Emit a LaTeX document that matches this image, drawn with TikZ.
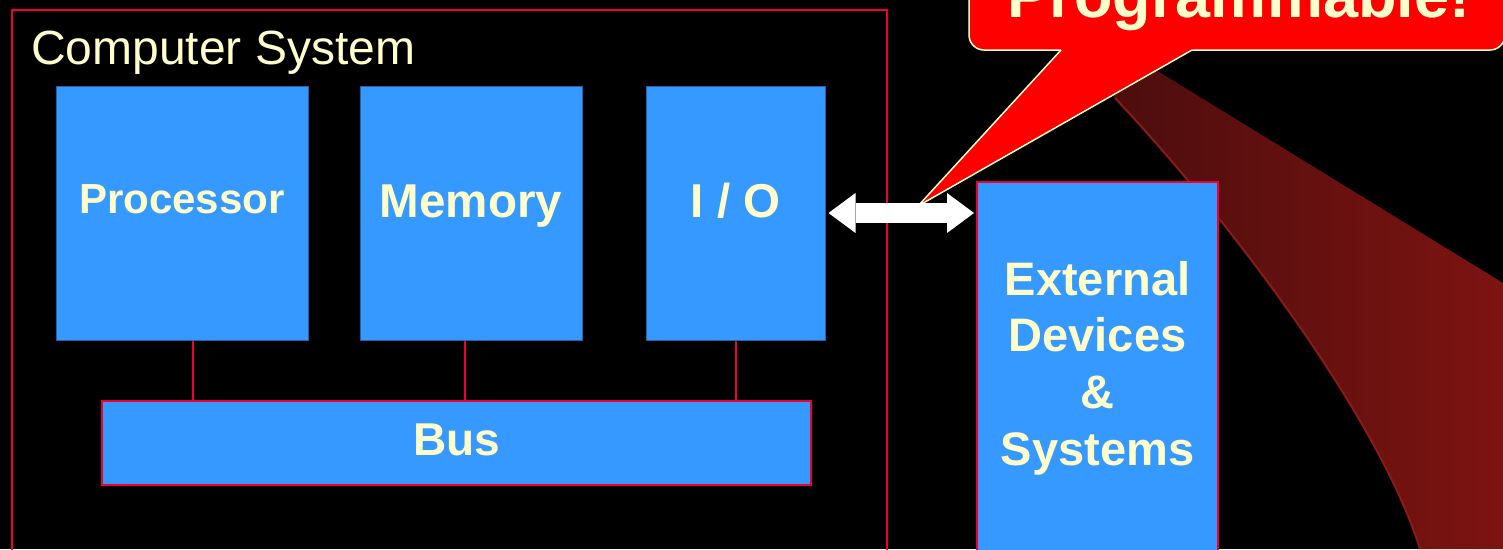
\documentclass[tikz,border=0pt]{standalone}
\usepackage{fontspec}
\setmainfont{Liberation Sans}
\usetikzlibrary{arrows.meta}

\definecolor{boxblue}{RGB}{54,153,255}
\definecolor{boxedge}{RGB}{36,96,170}
\definecolor{cream}{RGB}{255,255,204}
\definecolor{wirered}{RGB}{240,0,50}
\definecolor{calloutred}{RGB}{255,0,0}
\definecolor{beamdark}{RGB}{74,13,13}
\definecolor{beamlight}{RGB}{125,20,17}
\definecolor{beamrim}{RGB}{140,26,22}

\newcommand\pxfont[1]{\fontsize{#1}{#1}\selectfont}

\begin{document}
\begin{tikzpicture}[x=1pt,y=-1pt,
  unitbox/.style={rectangle, fill=boxblue, draw=boxedge, line width=1pt,
    inner sep=0pt, minimum height=254pt, text=cream},
  busbox/.style={rectangle, fill=boxblue, draw=wirered, line width=2.2pt,
    inner sep=0pt, text=cream},
  wire/.style={draw=wirered, line width=2pt},
  frameline/.style={draw=wirered, line width=2.2pt},
  boldtext/.style={font=\bfseries\pxfont{#1}},
  iolink/.style={draw=white, line width=20pt,
    {Triangle[length=27pt,width=40pt,line width=0pt]}-{Triangle[length=27pt,width=40pt,line width=0pt]}},
]
% canvas
\fill[black] (0,0) rectangle (1503,549);
\useasboundingbox (0,0) rectangle (1503,549);
\clip (0,0) rectangle (1503,549);

% light beam falling from the callout
\shade[left color=beamdark, right color=beamlight]
  (1095,76) -- (1120,48) -- (1503,283) -- (1503,549) -- (1420,549)
  .. controls (1380,420) and (1230,220) .. (1115,98) -- cycle;
\draw[beamrim, line width=2pt] (1420,549) .. controls (1380,420) and (1230,220) .. (1115,98);

% computer system frame
\draw[frameline] (12,10) rectangle (887,620);
\node[anchor=base west, inner sep=0pt, text=cream, font=\pxfont{48}] (sys) at (31,64) {Computer System};

% units
\node[unitbox, minimum width=252pt, boldtext=42, text height=15pt, text depth=14.4pt] (proc) at (182,213) {Processor};
\node[unitbox, minimum width=222pt, boldtext=47.5, text height=20pt, text depth=11.4pt] (mem) at (471,213) {Memory};
\node[unitbox, minimum width=179pt, boldtext=47.5, text height=20pt, text depth=12pt] (io) at (735.5,213) {I / O};
\node[busbox, minimum width=709pt, minimum height=84pt, boldtext=46, text height=24pt, text depth=0pt] (bus) at (456.5,443) {Bus};

% bus taps
\coordinate (ptap) at ([xshift=11pt]proc.south);
\coordinate (mtap) at ([xshift=-6pt]mem.south);
\coordinate (itap) at (io.south);
\draw[wire] (ptap) -- (ptap |- bus.north);
\draw[wire] (mtap) -- (mtap |- bus.north);
\draw[wire] (itap) -- (itap |- bus.north);

% external devices
\node[busbox, line width=2pt, minimum width=241pt, minimum height=440pt] (ext) at (1097.5,402) {};
\node[anchor=north, inner sep=0pt, align=center, text=cream,
      font=\bfseries\fontsize{47}{56.7}\selectfont] (extlbl) at (1097.5,261)
  {External\\Devices\\\&\\Systems};

% callout
\draw[fill=calloutred, draw=cream, line width=1.5pt, rounded corners=15pt] (969,-80) rectangle (1505,50);
\fill[calloutred] (1061,45) -- (1061,50) -- (918,206) -- (1192,50) -- (1192,45) -- cycle;
\draw[cream, line width=1.5pt, line join=round] (1061,50) -- (918,206) -- (1192,50);
\node[anchor=base, inner sep=0pt, text=cream, boldtext=63] (prog) at (1239,17) {Programmable!};

% link between I/O and the outside world
\coordinate (extin) at (ext.west |- io.east);
\draw[iolink] ([xshift=3pt]io.east) -- ([xshift=-2pt]extin);
\end{tikzpicture}
\end{document}
